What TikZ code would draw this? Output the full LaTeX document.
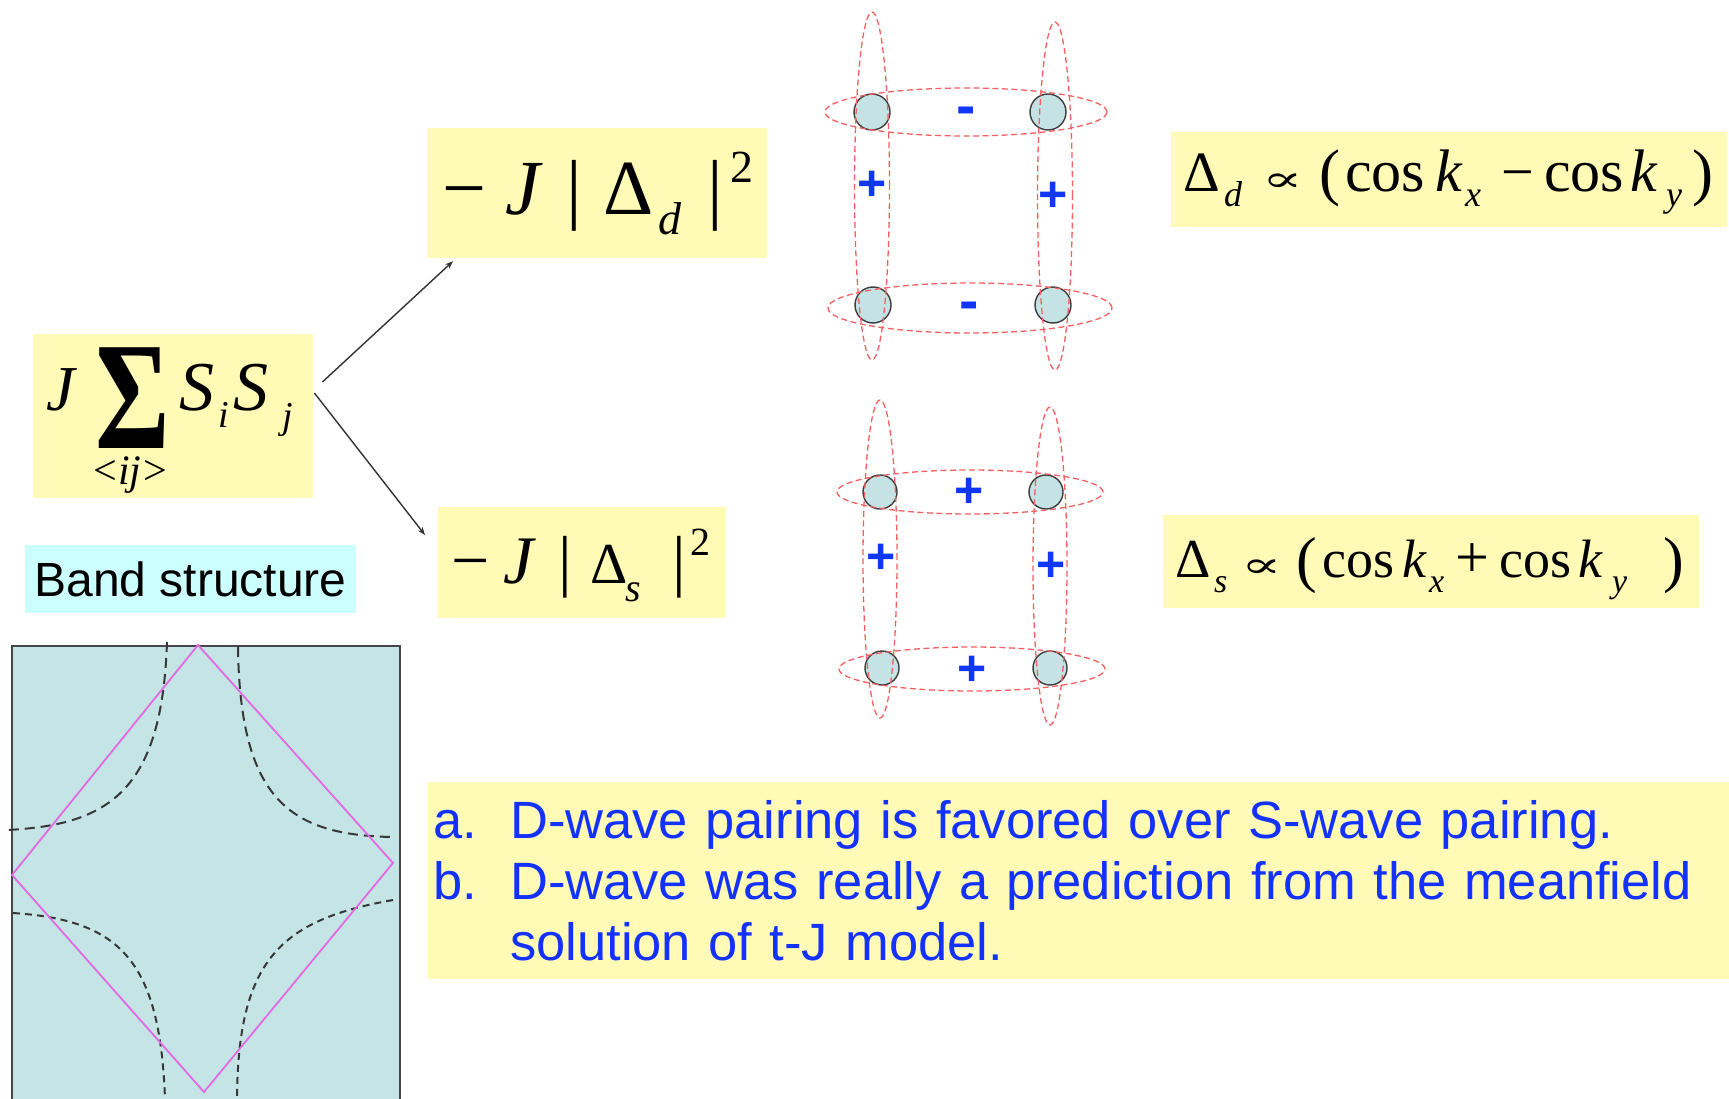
\documentclass[tikz,border=0pt]{standalone}
\usepackage{fontspec}
\usepackage{graphicx}
\usetikzlibrary{arrows.meta}
\newfontfamily\tms{Liberation Serif}
\newfontfamily\ars{Liberation Sans}
\newfontfamily\djv{DejaVu Serif}
\newcommand\at[2]{\rlap{\hspace*{#1pt}#2}}
\newcommand\fs[1]{\fontsize{#1}{#1}\selectfont}
\definecolor{ybg}{RGB}{255,250,182}
\definecolor{cbg}{RGB}{204,255,255}
\definecolor{bandc}{RGB}{196,228,230}
\definecolor{bandd}{RGB}{70,70,70}
\definecolor{sitec}{RGB}{197,227,229}
\definecolor{sited}{RGB}{60,60,60}
\definecolor{redd}{RGB}{245,95,95}
\definecolor{sblue}{RGB}{15,55,245}
\definecolor{tblue}{RGB}{20,50,255}
\definecolor{pinkc}{RGB}{226,105,226}
\definecolor{arrc}{RGB}{50,50,50}
\definecolor{curvec}{RGB}{55,55,55}
\begin{document}
\begin{tikzpicture}[x=1pt,y=-1pt,
  ybox/.style={fill=ybg, draw=none, inner sep=0pt, anchor=base west},
  site/.style={circle, fill=sitec, draw=sited, line width=1.4pt, minimum size=36pt, inner sep=0pt},
  pairdash/.style={draw=redd, dash pattern=on 6pt off 3.5pt, line width=1.3pt},
  sgn/.style={text=sblue, font=\ars\bfseries\fs{50}, inner sep=0pt},
  arr/.style={-{Stealth[length=8pt,width=6pt]}, line width=1.4pt, draw=arrc},
  fsurf/.style={draw=curvec, line width=2pt, dash pattern=on 10pt off 6pt},
  fsurfb/.style={draw=curvec, line width=2pt, dash pattern=on 7pt off 5pt}]
\useasboundingbox (0,0) rectangle (1729,1099);

% ---- J sum box ----
\node[ybox, text height=76pt, text depth=88pt] (jsum) at (33,410)
 {\makebox[280pt][l]{\tms
  \at{13}{\itshape\fs{64}J}%
  \at{62}{\raisebox{-38pt}{\scalebox{1}[1.35]{\bfseries\fs{114}Σ}}}%
  \at{97}{\makebox[0pt][c]{\raisebox{-74pt}{\fs{42}<\kern1pt\textit{ij}\kern2pt>}}}%
  \at{146}{\itshape\fs{70}S}%
  \at{185}{\raisebox{-17pt}{\itshape\fs{38}i}}%
  \at{200}{\itshape\fs{70}S}%
  \at{249}{\raisebox{-18pt}{\itshape\fs{38}j}}}};

% ---- -J|Delta_d|^2 ----
\node[ybox, text height=87pt, text depth=43pt] (dd) at (427,215)
 {\makebox[340pt][l]{\tms\fs{78}%
  \at{15}{−}\at{78}{\itshape J}\at{139}{|}\at{176}{Δ}%
  \at{231}{\raisebox{-20pt}{\itshape\fs{46}d}}%
  \at{280}{|}\at{303}{\raisebox{32pt}{\fs{46}2}}}};

% ---- -J|Delta_s|^2 ----
\node[ybox, text height=76pt, text depth=35pt] (ds) at (438,583)
 {\makebox[288pt][l]{\tms\fs{68}%
  \at{13}{−}\at{65}{\itshape J}\at{120}{|}\at{152}{\fs{58}Δ}%
  \at{187}{\raisebox{-18pt}{\itshape\fs{40}s}}%
  \at{234}{|}\at{252}{\raisebox{28pt}{\fs{40}2}}}};

% ---- Delta_d propto ----
\node[ybox, text height=60pt, text depth=35pt] (ddf) at (1171,192)
 {\makebox[556pt][l]{\tms\fs{60}%
  \at{12}{\fs{57}Δ}\at{53}{\raisebox{-15pt}{\itshape\fs{36}d}}%
  \at{91}{\scalebox{1}[0.6]{\djv\fs{60}∝}}%
  \at{148}{\raisebox{-2pt}{\fs{63}(}}\at{174}{cos}\at{264}{\itshape k}%
  \at{294}{\raisebox{-15pt}{\itshape\fs{36}x}}%
  \at{330}{\fs{58}−}\at{373}{cos}\at{459}{\itshape k}%
  \at{495}{\raisebox{-15pt}{\itshape\fs{36}y}}\at{521}{\raisebox{-2pt}{\fs{63})}}}};

% ---- Delta_s propto ----
\node[ybox, text height=62pt, text depth=31pt] (dsf) at (1163,577)
 {\makebox[536pt][l]{\tms\fs{54}%
  \at{12}{\fs{55}Δ}\at{51}{\raisebox{-15pt}{\itshape\fs{34}s}}%
  \at{78}{\scalebox{1}[0.6]{\djv\fs{60}∝}}%
  \at{133}{\raisebox{-3pt}{\fs{62}(}}\at{159}{cos}\at{239}{\itshape k}%
  \at{266}{\raisebox{-15pt}{\itshape\fs{34}x}}%
  \at{292}{\fs{60}+}\at{336}{cos}\at{415}{\itshape k}%
  \at{449}{\raisebox{-15pt}{\itshape\fs{34}y}}\at{500}{\raisebox{-3pt}{\fs{62})}}}};

% ---- arrows ----
\draw[arr] ([xshift=9pt,yshift=34pt]jsum.east) -- ([xshift=26pt,yshift=-3pt]dd.south west);
\draw[arr] ([xshift=1pt,yshift=23pt]jsum.east) -- ([xshift=-13pt,yshift=27.5pt]ds.west);

% ---- d-wave plaquette ----
\node[site] (a1) at (872,112) {};
\node[site] (a2) at (1048,112) {};
\node[site] (a3) at (873,305) {};
\node[site] (a4) at (1053,305) {};
\draw[pairdash] (966,112) ellipse [x radius=141pt, y radius=24pt];
\draw[pairdash] (970,308) ellipse [x radius=142pt, y radius=25pt];
\draw[pairdash] (872,186) ellipse [x radius=17.5pt, y radius=174pt];
\draw[pairdash] (1055,196) ellipse [x radius=17.5pt, y radius=174pt];
\node[sgn, font=\ars\bfseries\fs{58}] (ma) at (966,116) {-};
\node[sgn, font=\ars\bfseries\fs{58}] (mb) at (969,311) {-};
\node[sgn] (pa) at (872,186) {+};
\node[sgn] (pb) at (1053,197) {+};

% ---- s-wave plaquette ----
\node[site, minimum size=34pt] (b1) at (880,492) {};
\node[site, minimum size=34pt] (b2) at (1046,492) {};
\node[site, minimum size=34pt] (b3) at (882,668) {};
\node[site, minimum size=34pt] (b4) at (1050,668) {};
\draw[pairdash] (970,492) ellipse [x radius=133pt, y radius=22pt];
\draw[pairdash] (972,669) ellipse [x radius=133pt, y radius=22pt];
\draw[pairdash] (880,559) ellipse [x radius=17pt, y radius=159pt];
\draw[pairdash] (1050,566) ellipse [x radius=17pt, y radius=159pt];
\node[sgn] (pc) at (969,493) {+};
\node[sgn] (pd) at (972,671) {+};
\node[sgn] (pe) at (881,559) {+};
\node[sgn] (pf) at (1051,567) {+};

% ---- band structure ----
\node[fill=cbg, minimum width=331pt, minimum height=68pt, inner sep=0pt, font=\ars\fs{48}] (band) at (190.5,579) {Band structure};
\draw[fill=bandc, draw=bandd, line width=2pt] (12,646) rectangle (400,1110);
\draw[fsurf] (167,642) .. controls (162,790) and (110,825) .. (7,830);
\draw[fsurf] (238,647) .. controls (240,800) and (290,835) .. (392,837);
\draw[fsurfb] (13,913) .. controls (120,920) and (160,960) .. (165,1099);
\draw[fsurfb] (393,900) .. controls (280,920) and (238,960) .. (237,1099);
\draw[pinkc, line width=1.8pt] (198,645) -- (393,863) -- (204,1092) -- (12,875) -- cycle;

% ---- notes ----
\node[fill=ybg, inner sep=0pt, anchor=north west, minimum width=1301pt, minimum height=197pt, text width=1291pt, inner xsep=5pt, align=left, text=tblue, font=\ars\fontsize{52.5}{61}\selectfont] (notes) at (428,782)
 {\makebox[77pt][l]{a.}D-wave pairing is favored over S-wave pairing.\\
  \makebox[77pt][l]{b.}D-wave was really a prediction from the meanfield\\
  \hspace*{77pt}solution of t-J model.};
\end{tikzpicture}
\end{document}
